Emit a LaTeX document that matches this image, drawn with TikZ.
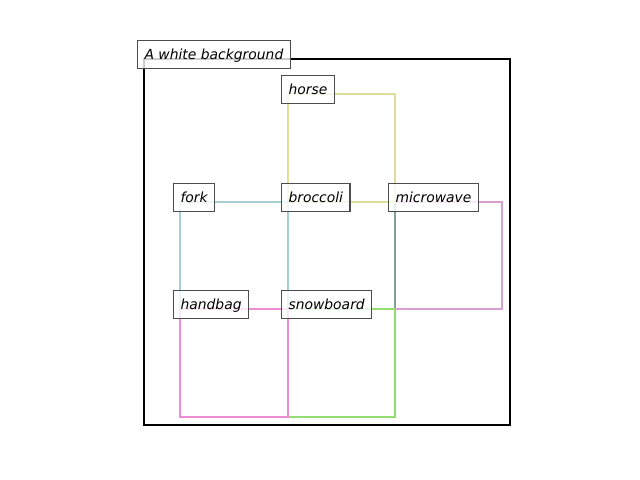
\documentclass[tikz,border=0pt]{standalone}
\usepackage{fontspec}
\setmainfont{DejaVu Sans}
\definecolor{horsecol}{HTML}{DEDE98}
\definecolor{forkcol}{HTML}{A6CFD2}
\definecolor{broccolicol}{HTML}{80A098}
\definecolor{microwavecol}{HTML}{D8A0D0}
\definecolor{handbagcol}{HTML}{EE8CD8}
\definecolor{snowboardcol}{HTML}{92DE72}
\begin{document}
\begin{tikzpicture}[x=0.72pt,y=-0.72pt]
        \tikzstyle{bbox}=[line width=1.6pt]
        \tikzstyle{tag}=[draw=black!70,fill=white,fill opacity=0.8,text opacity=1,
          line width=0.75pt,inner xsep=5pt,inner ysep=5pt,text height=8pt,text depth=1.5pt,
          font=\itshape,anchor=base west,xshift=-5pt]
       \useasboundingbox (0,0) rectangle (640,480);
       % image frame
       \draw [line width=1.6pt] (144,59) rectangle (510,425);
       % detections
       \begin{scope}
         \draw [bbox,microwavecol] (395,202) rectangle (502,309);
         \draw [bbox,broccolicol] (288,202) rectangle (395,309);
         \draw [bbox,horsecol] (288,94) rectangle (395,202);
         \draw [bbox,forkcol] (180,202) rectangle (288,309);
         \draw [bbox,snowboardcol] (288,309) rectangle (395,417);
         \draw [bbox,handbagcol] (180,309) rectangle (288,417);
       \end{scope}
       % labels
       \node [tag] (bg) at (144,59) {A white background};
       \node [tag] (horse) at (288,94) {horse};
       \node [tag] (fork) at (180,202) {fork};
       \node [tag] (broccoli) at (288,202) {broccoli};
       \node [tag] (microwave) at (395,202) {microwave};
       \node [tag] (handbag) at (180,309) {handbag};
       \node [tag] (snowboard) at (288,309) {snowboard};
\end{tikzpicture}
\end{document}
